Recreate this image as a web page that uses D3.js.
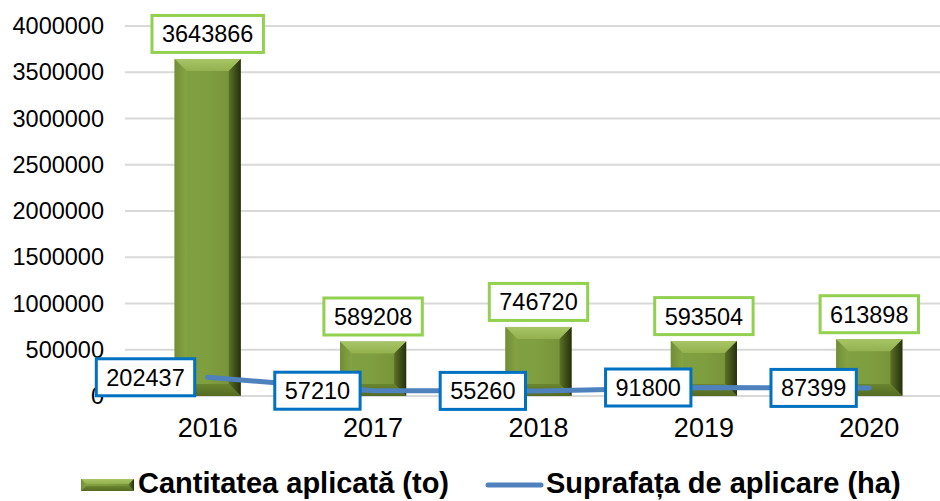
<!DOCTYPE html>
<html><head><meta charset="utf-8">
<script src="https://cdn.jsdelivr.net/npm/d3@7"></script>
<style>
html,body{margin:0;padding:0;background:#fff;}
svg{display:block;font-family:"Liberation Sans",Arial,sans-serif;}
</style></head>
<body>
<svg id="chart" width="940" height="501"></svg>
<script>
const years = ["2016", "2017", "2018", "2019", "2020"];
const cantitatea = [3643866, 589208, 746720, 593504, 613898];
const suprafata = [202437, 57210, 55260, 91800, 87399];
const yTicks = [0, 500000, 1000000, 1500000, 2000000, 2500000, 3000000, 3500000, 4000000];
const seriesNames = ["Cantitatea aplicată (to)", "Suprafața de aplicare (ha)"];

const svg = d3.select("#chart");
const x = d3.scaleBand().domain(years).range([125, 952]).paddingInner(0.6).paddingOuter(0.3);
const y = d3.scaleLinear().domain([0, 4000000]).range([396, 26]);

const defs = svg.append("defs");
function lg(id, x1, y1, x2, y2, stops) {
  const g = defs.append("linearGradient").attr("id", id)
    .attr("x1", x1).attr("y1", y1).attr("x2", x2).attr("y2", y2);
  stops.forEach(s => g.append("stop").attr("offset", s[0]).attr("stop-color", s[1]));
}
lg("gFace", 0, 0, 1, 0, [[0, "#80A041"], [0.5, "#7F9E3F"], [1, "#748F36"]]);
lg("gTop", 0, 0, 0, 1, [[0, "#A8C566"], [1, "#93B14F"]]);
lg("gLeft", 0, 0, 1, 0, [[0, "#728E36"], [1, "#86A444"]]);
lg("gRight", 0, 0, 1, 0, [[0, "#5A7126"], [1, "#26300E"]]);
lg("gBot", 0, 0, 0, 1, [[0, "#6A852E"], [1, "#556B22"]]);

// gridlines
svg.append("g").selectAll("line").data(yTicks).join("line")
  .attr("x1", 125).attr("x2", 940)
  .attr("y1", d => y(d)).attr("y2", d => y(d))
  .attr("stroke", "#D9D9D9").attr("stroke-width", 2);

// y axis labels
const yAxis = d3.axisLeft(y).tickValues(yTicks).tickSize(0).tickPadding(0).tickFormat(d3.format("d"));
const yg = svg.append("g").attr("transform", "translate(104,0)").call(yAxis);
yg.select(".domain").remove();
yg.selectAll("text").attr("font-size", 23.5).attr("fill", "#000")
  .attr("font-family", "Liberation Sans, Arial, sans-serif");

// x axis labels
const xAxis = d3.axisBottom(x).tickSize(0).tickPadding(0);
const xg = svg.append("g").attr("transform", "translate(0,418)").call(xAxis);
xg.select(".domain").remove();
xg.selectAll("text").attr("font-size", 27).attr("fill", "#000").attr("dy", "0.72em")
  .attr("font-family", "Liberation Sans, Arial, sans-serif");

// bevel bar drawing
function bevelBar(g, x0, y0, w, h, b) {
  b = Math.min(b, h / 2, w / 2);
  const x1 = x0 + w, y1 = y0 + h;
  g.append("rect").attr("x", x0).attr("y", y0).attr("width", w).attr("height", h).attr("fill", "url(#gFace)");
  const poly = (pts, fill) => g.append("polygon").attr("points", pts.map(p => p.join(",")).join(" ")).attr("fill", fill);
  poly([[x0, y0], [x1, y0], [x1 - b, y0 + b], [x0 + b, y0 + b]], "url(#gTop)");
  poly([[x0, y0], [x0 + b, y0 + b], [x0 + b, y1 - b], [x0, y1]], "url(#gLeft)");
  poly([[x1, y0], [x1, y1], [x1 - b, y1 - b], [x1 - b, y0 + b]], "url(#gRight)");
  poly([[x0, y1], [x0 + b, y1 - b], [x1 - b, y1 - b], [x1, y1]], "url(#gBot)");
}

const bars = svg.append("g");
years.forEach((yr, i) => {
  const g = bars.append("g");
  bevelBar(g, x(yr), y(cantitatea[i]), x.bandwidth(), y(0) - y(cantitatea[i]), 12);
});

// line
const cx = d => x(d) + x.bandwidth() / 2;
const line = d3.line().x((d, i) => cx(years[i])).y(d => y(d));
svg.append("path").datum(suprafata).attr("d", line)
  .attr("fill", "none").attr("stroke", "#4F81BD").attr("stroke-width", 5).attr("stroke-linecap", "round");

// label helper
const digitW = 23.5 * 0.556;
function labelBox(cxp, cyp, txt, stroke) {
  const w = txt.length * digitW + 20, h = 37;
  const g = svg.append("g");
  g.append("rect").attr("x", cxp - w / 2).attr("y", cyp - h / 2).attr("width", w).attr("height", h)
    .attr("fill", "#fff").attr("stroke", stroke).attr("stroke-width", 3);
  g.append("text").attr("x", cxp).attr("y", cyp).attr("dy", "0.36em").attr("text-anchor", "middle")
    .attr("font-size", 23.5).attr("fill", "#000").text(txt);
  return w;
}
years.forEach((yr, i) => {
  labelBox(cx(yr), y(cantitatea[i]) - 6 - 19, String(cantitatea[i]), "#92D050");
});
years.forEach((yr, i) => {
  const txt = String(suprafata[i]);
  const w = txt.length * digitW + 20;
  labelBox(cx(yr) - 13 - w / 2, y(suprafata[i]), txt, "#0070C0");
});

// legend
const lgd = svg.append("g");
bevelBar(lgd, 81, 479, 53, 12, 5);
lgd.append("text").attr("x", 138).attr("y", 483).attr("dy", "0.35em")
  .attr("font-size", 29).attr("font-weight", "bold").attr("fill", "#000").text(seriesNames[0]);
lgd.append("line").attr("x1", 488).attr("x2", 541).attr("y1", 485).attr("y2", 485)
  .attr("stroke", "#4F81BD").attr("stroke-width", 5).attr("stroke-linecap", "round");
lgd.append("text").attr("x", 546).attr("y", 483).attr("dy", "0.35em")
  .attr("font-size", 29).attr("font-weight", "bold").attr("fill", "#000").text(seriesNames[1]);
</script>
</body></html>
